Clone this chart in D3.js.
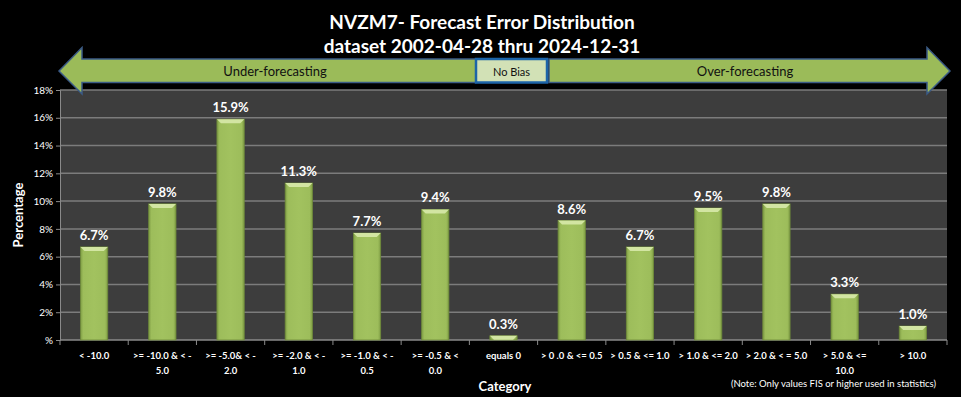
<!DOCTYPE html>
<html><head><meta charset="utf-8">
<script src="https://cdn.jsdelivr.net/npm/d3@7"></script>
<style>
html,body{margin:0;padding:0;background:#000;}
svg{display:block;}
text{font-family:Lato,"Open Sans",sans-serif;}
</style></head>
<body>
<script>
const titleLines = ["NVZM7- Forecast Error Distribution", "dataset 2002-04-28  thru 2024-12-31"];
const categories = [
  ["< -10.0"],
  [">= -10.0 & < -", "5.0"],
  [">= -5.0& < -", "2.0"],
  [">= -2.0 & < -", "1.0"],
  [">= -1.0 & < -", "0.5"],
  [">= -0.5 & <", "0.0"],
  ["equals 0"],
  ["> 0 .0 & <= 0.5"],
  ["> 0.5 & <= 1.0"],
  ["> 1.0 & <= 2.0"],
  ["> 2.0 & < = 5.0"],
  ["> 5.0 & <=", "10.0"],
  ["> 10.0"]
];
const values = [6.7, 9.8, 15.9, 11.3, 7.7, 9.4, 0.3, 8.6, 6.7, 9.5, 9.8, 3.3, 1.0];
const yTicks = [0, 2, 4, 6, 8, 10, 12, 14, 16, 18];
const yTickLabels = ["%", "2%", "4%", "6%", "8%", "10%", "12%", "14%", "16%", "18%"];
const biasLabels = ["Under-forecasting", "No Bias", "Over-forecasting"];
const xTitle = "Category";
const yTitle = "Percentage";
const note = "(Note: Only values FIS or higher used in statistics)";

const W = 961, H = 397;
const m = {left: 60, right: 961 - 947, top: 90, bottom: 397 - 340};
const pw = W - m.left - m.right, ph = H - m.top - m.bottom;

const svg = d3.select("body").append("svg").attr("width", W).attr("height", H);
svg.append("rect").attr("width", W).attr("height", H).attr("fill", "#000");

const defs = svg.append("defs");
const grad = defs.append("linearGradient").attr("id", "barg").attr("x1", 0).attr("x2", 1).attr("y1", 0).attr("y2", 0);
grad.append("stop").attr("offset", "0%").attr("stop-color", "#7e9c44");
grad.append("stop").attr("offset", "10%").attr("stop-color", "#9dbd5b");
grad.append("stop").attr("offset", "50%").attr("stop-color", "#a2c25f");
grad.append("stop").attr("offset", "90%").attr("stop-color", "#9dbd5b");
grad.append("stop").attr("offset", "100%").attr("stop-color", "#7e9c44");

// Title
svg.selectAll("text.title").data(titleLines).join("text")
  .attr("class", "title")
  .attr("x", 482).attr("y", (d, i) => 29 + i * 24)
  .attr("text-anchor", "middle").attr("fill", "#fff")
  .attr("font-weight", "bold").attr("font-size", 19).text(d => d);

// Plot area
const g = svg.append("g").attr("transform", `translate(${m.left},${m.top})`);
g.append("rect").attr("width", pw).attr("height", ph).attr("fill", "#3d3d3d");

const x = d3.scaleBand().domain(d3.range(categories.length)).range([0, pw]).paddingInner(0.6).paddingOuter(0.3);
const y = d3.scaleLinear().domain([0, 18]).range([ph, 0]);

// gridlines
g.selectAll("line.grid").data(yTicks.filter(t => t > 0)).join("line")
  .attr("x1", 0).attr("x2", pw).attr("y1", d => y(d)).attr("y2", d => y(d))
  .attr("stroke", "#7c7c7c").attr("stroke-width", 1.5);

// y axis
const yAxis = d3.axisLeft(y).tickValues(yTicks).tickFormat((d, i) => yTickLabels[i]).tickSize(4).tickPadding(3);
const ya = g.append("g").call(yAxis);
ya.select(".domain").attr("stroke", "#8a8a8a");
ya.selectAll(".tick line").attr("stroke", "#8a8a8a");
ya.selectAll(".tick text").attr("fill", "#fff").attr("font-size", 10).attr("font-family", "Lato, sans-serif");

// x axis line and ticks at band boundaries
g.append("line").attr("x1", 0).attr("x2", pw).attr("y1", ph).attr("y2", ph).attr("stroke", "#8a8a8a").attr("stroke-width", 1.5);
g.selectAll("line.xt").data(d3.range(categories.length + 1)).join("line")
  .attr("x1", d => d * x.step()).attr("x2", d => d * x.step())
  .attr("y1", ph).attr("y2", ph + 5).attr("stroke", "#8a8a8a");

// bars
const bars = g.selectAll("g.bar").data(values).join("g").attr("class", "bar");
const bw = x.bandwidth();
bars.append("rect")
  .attr("x", (d, i) => x(i)).attr("y", d => y(d))
  .attr("width", bw).attr("height", d => ph - y(d))
  .attr("fill", "url(#barg)").attr("stroke", "#6e8a3a").attr("stroke-width", 0.8);
bars.append("path")
  .attr("d", (d, i) => {
    const x0 = x(i), x1 = x(i) + bw, t = y(d), b = Math.min(4, ph - y(d));
    return `M${x0},${t}L${x1},${t}L${x1 - b},${t + b}L${x0 + b},${t + b}Z`;
  })
  .attr("fill", "#d2e5a2");
bars.append("text")
  .attr("x", (d, i) => x(i) + bw / 2).attr("y", d => y(d) - 7)
  .attr("text-anchor", "middle").attr("fill", "#fff").attr("font-weight", "bold").attr("font-size", 13)
  .text(d => d.toFixed(1) + "%");

// category labels
const cl = g.selectAll("text.cat").data(categories).join("text").attr("class", "cat")
  .attr("x", (d, i) => x(i) + bw / 2).attr("y", ph + 19)
  .attr("text-anchor", "middle").attr("fill", "#fff").attr("font-size", 9.5).attr("font-weight", "bold");
cl.selectAll("tspan").data(d => d).join("tspan")
  .attr("x", function () { return d3.select(this.parentNode).attr("x"); })
  .attr("dy", (d, i) => i === 0 ? 0 : 15).text(d => d);

// axis titles
svg.append("text").attr("x", 505).attr("y", 391).attr("text-anchor", "middle").attr("fill", "#fff")
  .attr("font-weight", "bold").attr("font-size", 13).text(xTitle);
svg.append("text").attr("transform", "translate(23,215) rotate(-90)").attr("text-anchor", "middle").attr("fill", "#fff")
  .attr("font-weight", "bold").attr("font-size", 13).text(yTitle);
svg.append("text").attr("x", 936).attr("y", 387).attr("text-anchor", "end").attr("fill", "#fff")
  .attr("font-size", 9.5).text(note);

// bias arrows
const arrowFill = "#9bbb59", arrowStroke = "#3b5b86";
const ay = 71, bt = 59, bb = 82.5, ht = 47.5, hb = 94;
svg.append("path")
  .attr("d", `M59,${ay}L82,${ht}L82,${bt}L476,${bt}L476,${bb}L82,${bb}L82,${hb}Z`)
  .attr("fill", arrowFill).attr("stroke", arrowStroke).attr("stroke-width", 1.5);
svg.append("path")
  .attr("d", `M950,${ay}L927,${ht}L927,${bt}L549,${bt}L549,${bb}L927,${bb}L927,${hb}Z`)
  .attr("fill", arrowFill).attr("stroke", arrowStroke).attr("stroke-width", 1.5);
svg.append("rect").attr("x", 476).attr("y", 59).attr("width", 71).attr("height", 23.5)
  .attr("fill", "#d2e1b6").attr("stroke", "#1c64a8").attr("stroke-width", 2.5);
const bx = [275, 511.5, 745];
const bsz = [13, 11, 13];
svg.selectAll("text.bias").data(biasLabels).join("text").attr("class", "bias")
  .attr("x", (d, i) => bx[i]).attr("y", 75.5).attr("text-anchor", "middle")
  .attr("fill", "#111").attr("font-size", (d, i) => bsz[i]).text(d => d);
</script>
</body></html>
